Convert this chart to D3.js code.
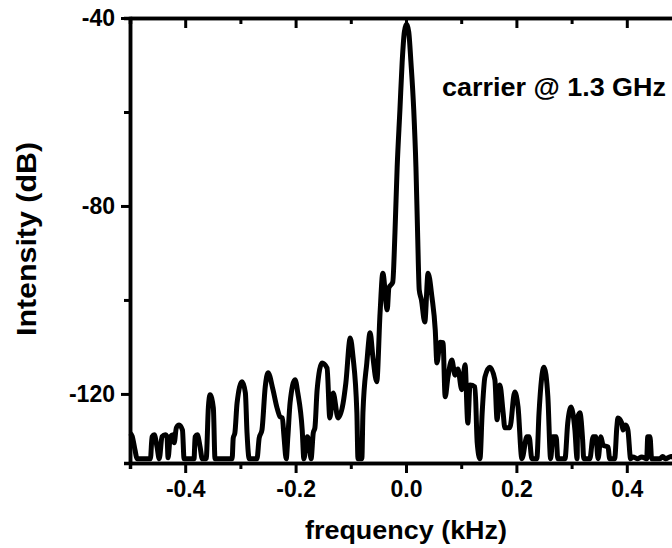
<!DOCTYPE html>
<html>
<head>
<meta charset="utf-8">
<script src="https://cdn.jsdelivr.net/npm/d3@7"></script>
<style>
  body { margin: 0; background: #fff; }
  svg { display: block; font-family: "Liberation Sans", Arial, sans-serif; font-weight: bold; }
</style>
</head>
<body>
<svg id="chart"></svg>
<script>
// spectrum: frequency (kHz) and intensity (dB)
const freq = [
  -0.500, -0.496, -0.491, -0.487, -0.463, -0.460, -0.456, -0.451, -0.447, -0.442,
  -0.436, -0.433, -0.431, -0.427, -0.422, -0.420, -0.416, -0.411, -0.405, -0.402,
  -0.384, -0.382, -0.378, -0.373, -0.369, -0.362, -0.358, -0.355, -0.349, -0.346,
  -0.315, -0.313, -0.310, -0.306, -0.297, -0.291, -0.288, -0.284, -0.270, -0.266,
  -0.261, -0.255, -0.250, -0.241, -0.234, -0.228, -0.224, -0.221, -0.217, -0.214,
  -0.210, -0.201, -0.196, -0.188, -0.185, -0.179, -0.176, -0.172, -0.168, -0.165,
  -0.161, -0.152, -0.143, -0.138, -0.132, -0.123, -0.114, -0.109, -0.101, -0.096,
  -0.089, -0.087, -0.080, -0.078, -0.071, -0.065, -0.060, -0.053, -0.047, -0.042,
  -0.034, -0.031, -0.024, -0.020, -0.016, -0.011, -0.007, -0.003, 0.001, 0.005,
  0.009, 0.014, 0.018, 0.021, 0.024, 0.028, 0.034, 0.040, 0.047, 0.053,
  0.056, 0.062, 0.067, 0.071, 0.076, 0.083, 0.089, 0.094, 0.101, 0.107,
  0.112, 0.116, 0.125, 0.129, 0.134, 0.138, 0.143, 0.152, 0.161, 0.165,
  0.170, 0.176, 0.179, 0.188, 0.197, 0.203, 0.210, 0.219, 0.223, 0.228,
  0.237, 0.241, 0.250, 0.257, 0.262, 0.266, 0.272, 0.275, 0.288, 0.293,
  0.299, 0.306, 0.310, 0.311, 0.315, 0.320, 0.322, 0.333, 0.339, 0.344,
  0.348, 0.353, 0.357, 0.366, 0.369, 0.378, 0.382, 0.384, 0.391, 0.393,
  0.398, 0.402, 0.407, 0.411, 0.420, 0.427, 0.436, 0.438, 0.442, 0.445,
  0.460, 0.465, 0.470, 0.480, 0.490, 0.500
];
const intensity = [
  -128.3, -129.0, -131.9, -133.8, -133.8, -129.1, -128.7, -131.3, -133.8, -129.1,
  -128.7, -129.1, -133.6, -129.1, -128.7, -130.4, -127.2, -126.6, -127.7, -133.8,
  -133.8, -129.1, -128.7, -131.3, -133.8, -133.8, -122.8, -120.2, -123.0, -133.8,
  -133.8, -129.4, -128.3, -121.9, -117.4, -119.8, -128.3, -133.8, -133.8, -129.4,
  -127.7, -118.5, -115.5, -119.1, -122.8, -124.9, -125.1, -129.1, -133.8, -129.1,
  -121.9, -117.0, -119.8, -127.7, -133.8, -129.1, -129.8, -133.8, -128.3, -127.2,
  -119.1, -113.4, -114.5, -125.1, -119.8, -125.1, -122.0, -117.7, -108.1, -112.1,
  -124.0, -133.8, -133.8, -124.0, -113.4, -107.0, -112.1, -117.4, -102.8, -94.3,
  -102.1, -97.4, -96.2, -85.7, -71.7, -59.5, -49.5, -43.0, -41.3, -43.0,
  -49.5, -59.5, -71.7, -85.7, -97.9, -100.0, -104.7, -94.3, -99.4, -106.4,
  -113.4, -109.0, -109.1, -120.6, -116.4, -112.8, -116.0, -114.7, -119.1, -113.8,
  -126.2, -118.1, -118.5, -130.4, -133.8, -124.0, -116.4, -114.3, -117.0, -125.5,
  -118.1, -124.0, -127.2, -127.2, -119.6, -122.8, -133.8, -129.1, -129.1, -133.8,
  -133.8, -124.0, -114.3, -120.6, -133.8, -129.1, -129.1, -133.8, -133.8, -126.2,
  -122.8, -127.7, -133.8, -125.0, -124.0, -129.8, -133.8, -133.8, -129.1, -129.1,
  -133.8, -129.1, -130.9, -131.3, -133.8, -133.8, -127.0, -125.1, -126.2, -127.7,
  -126.6, -127.7, -133.8, -133.4, -133.8, -133.4, -133.8, -129.1, -129.1, -133.8,
  -133.8, -133.3, -133.8, -133.3, -133.8, -133.8
];

const xTickValues = [-0.4, -0.2, 0.0, 0.2, 0.4];
const xMinorValues = [-0.5, -0.3, -0.1, 0.1, 0.3, 0.5];
const yTickValues = [-40, -80, -120];
const yMinorValues = [-60, -100];
const xTitle = "frequency (kHz)";
const yTitle = "Intensity (dB)";
const carrierLabel = "carrier @ 1.3 GHz";

function spectrum() {
  const width = 672;
  const height = 548;
  const margin = {top: 18, right: -10, bottom: 85, left: 130};

  const svg = d3.select("#chart")
      .attr("width", width)
      .attr("height", height)
      .attr("viewBox", [0, 0, width, height]);

  const x = d3.scaleLinear()
      .domain([-0.5, 0.5])
      .range([margin.left, width - margin.right]);

  const y = d3.scaleLinear()
      .domain([-134.7, -40])
      .range([height - margin.bottom, margin.top]);

  const data = freq.map((f, i) => ({f: f, v: intensity[i]}));

  const line = d3.line()
      .x(d => x(d.f))
      .y(d => y(d.v))
      .curve(d3.curveMonotoneX);

  svg.append("path")
      .datum(data)
      .attr("fill", "none")
      .attr("stroke", "#000")
      .attr("stroke-width", 5)
      .attr("stroke-linejoin", "round")
      .attr("d", line);

  const fmtX = d => d.toFixed(1);
  const y0 = height - margin.bottom;

  // minor ticks first (no labels)
  svg.append("g")
      .attr("transform", `translate(0,${y0})`)
      .call(d3.axisBottom(x).tickValues(xMinorValues).tickSize(6).tickFormat(""));
  svg.append("g")
      .attr("transform", `translate(0,${margin.top})`)
      .call(d3.axisTop(x).tickValues(xMinorValues).tickSize(-6).tickFormat(""));
  svg.append("g")
      .attr("transform", `translate(${margin.left},0)`)
      .call(d3.axisLeft(y).tickValues(yMinorValues).tickSize(6).tickFormat(""));
  svg.append("g")
      .attr("transform", `translate(${width - margin.right},0)`)
      .call(d3.axisRight(y).tickValues(yMinorValues).tickSize(-6).tickFormat(""));

  // major ticks
  svg.append("g")
      .attr("transform", `translate(0,${y0})`)
      .call(d3.axisBottom(x).tickValues(xTickValues).tickSize(10).tickSizeOuter(0)
        .tickPadding(8).tickFormat(fmtX));
  svg.append("g")
      .attr("transform", `translate(0,${margin.top})`)
      .call(d3.axisTop(x).tickValues(xTickValues).tickSize(-10).tickSizeOuter(0).tickFormat(""));
  svg.append("g")
      .attr("transform", `translate(${margin.left},0)`)
      .call(d3.axisLeft(y).tickValues(yTickValues).tickSize(9).tickSizeOuter(0)
        .tickPadding(6).tickFormat(d => String(d)));
  svg.append("g")
      .attr("transform", `translate(${width - margin.right},0)`)
      .call(d3.axisRight(y).tickValues(yTickValues).tickSize(-10).tickSizeOuter(0).tickFormat(""));

  svg.selectAll(".domain")
      .attr("stroke", "#000")
      .attr("stroke-width", 3.5);
  svg.selectAll(".tick line")
      .attr("stroke", "#000")
      .attr("stroke-width", 3);
  svg.selectAll(".tick text")
      .attr("fill", "#000")
      .attr("font-size", 23)
      .attr("font-family", "'Liberation Sans', Arial, sans-serif")
      .attr("font-weight", "bold");

  // titles
  svg.append("text")
      .attr("x", 406)
      .attr("y", 539)
      .attr("text-anchor", "middle")
      .attr("font-size", 26)
      .attr("textLength", 202)
      .attr("lengthAdjust", "spacingAndGlyphs")
      .text(xTitle);

  svg.append("text")
      .attr("transform", "translate(36,239) rotate(-90)")
      .attr("text-anchor", "middle")
      .attr("font-size", 27)
      .attr("textLength", 194)
      .attr("lengthAdjust", "spacingAndGlyphs")
      .text(yTitle);

  svg.append("text")
      .attr("x", 442)
      .attr("y", 96)
      .attr("font-size", 26)
      .attr("textLength", 224)
      .attr("lengthAdjust", "spacingAndGlyphs")
      .text(carrierLabel);

  return svg.node();
}

spectrum();
</script>
</body>
</html>
